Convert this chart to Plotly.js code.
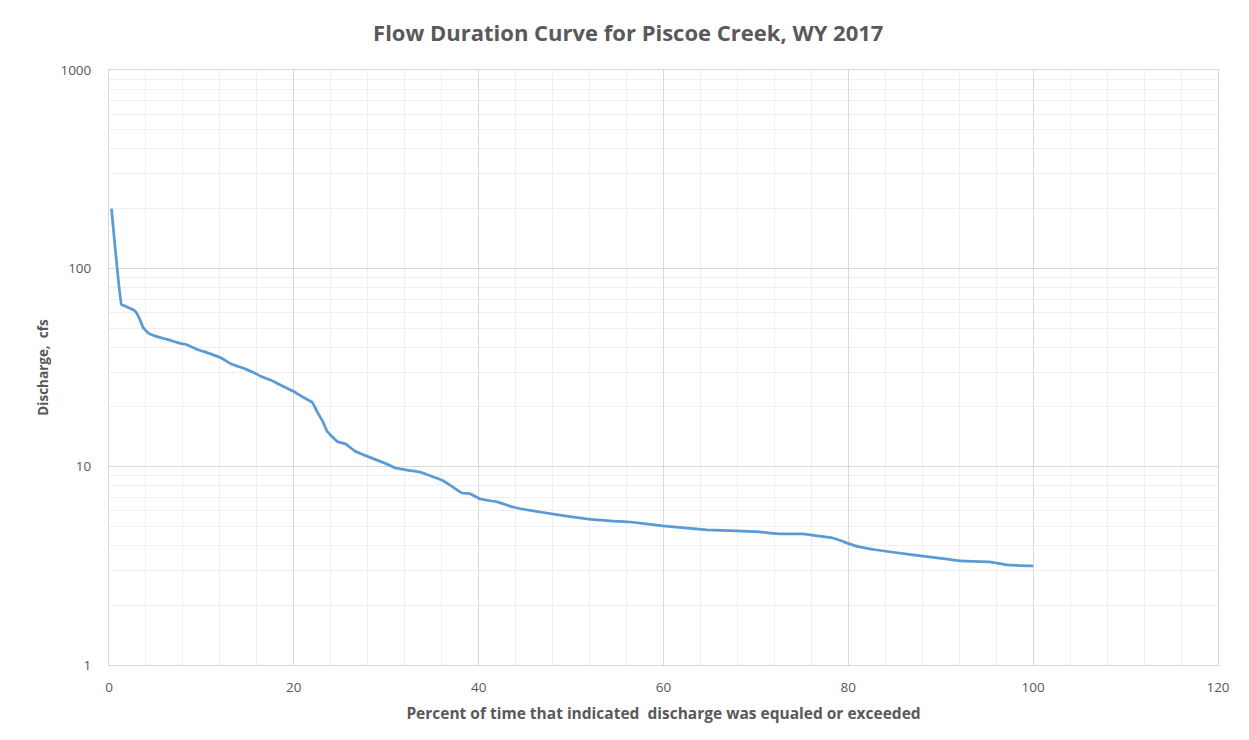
<!DOCTYPE html>
<html>
<head>
<meta charset="utf-8">
<script src="https://cdn.plot.ly/plotly-3.0.1.min.js"></script>
<style>html,body{margin:0;padding:0;background:#fff;}#chart{width:1249px;height:740px;}</style>
</head>
<body>
<div id="chart"></div>
<script>
const percentExceeded = [0.27, 1.35, 1.6, 2.68, 2.97, 3.41, 3.7, 4.3, 5.03, 6.29, 7.73, 8.27, 9.54, 10.6, 12.05, 13.3, 14.6, 15.65, 16.4, 17.8, 19.1, 19.95, 21.0, 22.0, 22.5, 23.1, 23.6, 24.7, 25.6, 26.6, 27.9, 30.1, 31.0, 32.3, 33.7, 35.1, 36.2, 37.2, 38.2, 39.1, 40.2, 42.0, 43.7, 45.9, 48.1, 51.7, 54.5, 56.4, 59.9, 64.7, 67.9, 70.4, 72.6, 75.1, 76.6, 78.3, 79.3, 79.8, 81.2, 83.1, 87.0, 89.6, 92.1, 95.3, 97.1, 100.0];
const dischargeCfs = [200, 65.8, 64.9, 61.5, 59.7, 54.2, 50.2, 47.0, 45.5, 43.8, 41.8, 41.4, 39.0, 37.6, 35.5, 32.8, 31.3, 29.8, 28.6, 26.9, 25.1, 24.0, 22.4, 21.1, 19.0, 17.0, 15.1, 13.4, 13.0, 12.0, 11.3, 10.3, 9.84, 9.61, 9.39, 8.87, 8.47, 7.90, 7.37, 7.29, 6.87, 6.64, 6.26, 5.98, 5.77, 5.45, 5.32, 5.26, 5.03, 4.80, 4.74, 4.69, 4.58, 4.58, 4.48, 4.37, 4.22, 4.13, 3.94, 3.80, 3.59, 3.47, 3.35, 3.31, 3.20, 3.16];
const xTickVals = [0, 20, 40, 60, 80, 100, 120];
const yTickVals = [1, 10, 100, 1000];
const yTickText = ['1', '10', '100', '1000'];

const FONT = 'Open Sans, Liberation Sans, sans-serif';
const trace = {
  x: percentExceeded, y: dischargeCfs, type: 'scatter', mode: 'lines',
  line: {color: '#5B9BD5', width: 2.75, shape: 'spline', smoothing: 0.3},
  hoverinfo: 'x+y'
};
const layout = {
  width: 1249, height: 740,
  margin: {l: 109, r: 31, t: 70, b: 75},
  paper_bgcolor: '#ffffff', plot_bgcolor: '#ffffff',
  showlegend: false,
  font: {family: FONT, color: '#595959', size: 13},
  title: {text: '<b>Flow Duration Curve for Piscoe Creek, WY 2017</b>', font: {family: FONT, size: 22, color: '#595959'}, x: 0.503, xref: 'container', y: 0.955, yref: 'container', yanchor: 'middle'},
  xaxis: {
    range: [0, 120], tickvals: xTickVals, ticks: '', ticklabelstandoff: 10,
    showgrid: true, gridcolor: '#d9d9d9', gridwidth: 1,
    minor: {dtick: 4, showgrid: true, gridcolor: '#efefef', gridwidth: 1},
    showline: true, linecolor: '#d9d9d9', linewidth: 1, mirror: true, zeroline: false,
    tickfont: {size: 13.5, color: '#595959'},
    title: {text: '<b>Percent of time that indicated  discharge was equaled or exceeded</b>', font: {size: 15.5, color: '#595959'}, standoff: 12}
  },
  yaxis: {
    type: 'log', range: [0, 3], tickvals: yTickVals, ticktext: yTickText, ticks: '', ticklabelstandoff: 14,
    showgrid: true, gridcolor: '#d9d9d9', gridwidth: 1,
    minor: {dtick: 'D1', showgrid: true, gridcolor: '#efefef', gridwidth: 1},
    showline: true, linecolor: '#d9d9d9', linewidth: 1, mirror: true, zeroline: false,
    tickfont: {size: 13.5, color: '#595959'},
    title: {text: '<b>Discharge,  cfs</b>', font: {size: 13.5, color: '#595959'}, standoff: 8}
  }
};
Plotly.newPlot('chart', [trace], layout, {displayModeBar: false, staticPlot: true});
</script>
</body>
</html>
